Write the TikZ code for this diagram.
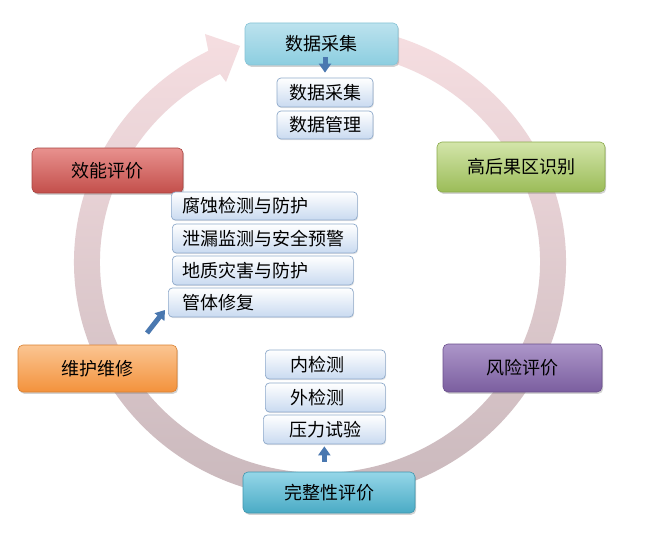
\documentclass[tikz,border=0pt]{standalone}
\usepackage{fontspec}
\newfontfamily\cjk{Noto Sans CJK SC}
\usetikzlibrary{arrows.meta,shadows,calc}
\definecolor{ringtop}{HTML}{F6DEE1}
\definecolor{ringbot}{HTML}{C8B7BB}
\definecolor{subfill}{HTML}{C9DAF0}
\definecolor{subline}{HTML}{8FAACB}
\definecolor{arrowblue}{HTML}{4A78B0}
\definecolor{aT}{HTML}{BCE2EE}\definecolor{aB}{HTML}{8CCEE0}\definecolor{aL}{HTML}{86C3D6}
\definecolor{bT}{HTML}{D3E5AA}\definecolor{bB}{HTML}{9BBC58}\definecolor{bL}{HTML}{8AAA4A}
\definecolor{fT}{HTML}{E8918E}\definecolor{fB}{HTML}{C34F4B}\definecolor{fL}{HTML}{A84440}
\definecolor{eT}{HTML}{FBC592}\definecolor{eB}{HTML}{F3923C}\definecolor{eL}{HTML}{D98030}
\definecolor{cT}{HTML}{AC96C9}\definecolor{cB}{HTML}{7B5E9F}\definecolor{cL}{HTML}{6A4F8C}
\definecolor{dT}{HTML}{95D6E8}\definecolor{dB}{HTML}{4AABC5}\definecolor{dL}{HTML}{3F96AE}
\begin{document}
\begin{tikzpicture}[x=1pt,y=1pt,
  base/.style={font=\cjk\fontsize{18}{20}\selectfont, text=black, inner sep=0pt},
  mainbox/.style n args={3}{base, rounded corners=5pt, draw=#3, line width=0.6pt,
     top color=#1, bottom color=#2,
     drop shadow={opacity=0.35, shadow xshift=1.2pt, shadow yshift=-1.8pt}},
  subbox/.style={base, rounded corners=4pt, draw=subline, line width=0.7pt,
     top color=white, bottom color=subfill,
     drop shadow={opacity=0.2, shadow xshift=0.8pt, shadow yshift=-1.2pt}},
  barrow/.style={draw=arrowblue, line width=5pt,
     -{Triangle[width=12pt,length=9pt]}}
]
\useasboundingbox (0,0) rectangle (646,-535);
\fill[white] (0,0) rectangle (646,-535);

% ring with arrow head
\begin{scope}[shift={(320,-262)}]
\shade[top color=ringtop, bottom color=ringbot]
  (80:246 and 237) arc[start angle=80, end angle=-243, x radius=246, y radius=237]
  -- (-115,228) -- (-80,216) -- (-94,180)
  -- (-243:220 and 211) arc[start angle=-243, end angle=80, x radius=220, y radius=211]
  -- cycle;
\end{scope}

% main boxes
\node[mainbox={aT}{aB}{aL}, minimum width=153, minimum height=42] (mA) at (321.5,-44) {数据采集};
\node[mainbox={bT}{bB}{bL}, minimum width=168, minimum height=50] (mB) at (521,-167) {高后果区识别};
\node[mainbox={fT}{fB}{fL}, minimum width=151, minimum height=45] (mF) at (107.5,-170.5) {效能评价};
\node[mainbox={eT}{eB}{eL}, minimum width=159, minimum height=47] (mE) at (97.5,-368.5) {维护维修};
\node[mainbox={cT}{cB}{cL}, minimum width=159, minimum height=48] (mC) at (522.5,-368) {风险评价};
\node[mainbox={dT}{dB}{dL}, minimum width=172, minimum height=41] (mD) at (329,-492.5) {完整性评价};

% sub boxes: data
\node[subbox, minimum width=96, minimum height=29] (a1) at (325,-92.5) {数据采集};
\node[subbox, minimum width=96, minimum height=28] (a2) at (325,-125) {数据管理};

% sub boxes: maintenance
\node[subbox, anchor=west, inner xsep=11pt, text width=164, align=left, minimum height=28] (e1) at (171,-206) {腐蚀检测与防护};
\node[subbox, anchor=west, inner xsep=10pt, text width=165, align=left, minimum height=29] (e2) at (172,-238.5) {泄漏监测与安全预警};
\node[subbox, anchor=west, inner xsep=10pt, text width=161, align=left, minimum height=29] (e3) at (172,-270.5) {地质灾害与防护};
\node[subbox, anchor=west, inner xsep=14pt, text width=157, align=left, minimum height=29] (e4) at (168,-302.5) {管体修复};

% sub boxes: inspection
\node[subbox, anchor=west, inner xsep=25pt, text width=70, align=left, minimum height=29] (d1) at (265,-364.5) {内检测};
\node[subbox, anchor=west, inner xsep=25pt, text width=70, align=left, minimum height=29] (d2) at (265,-397.5) {外检测};
\node[subbox, anchor=west, inner xsep=26pt, text width=70, align=left, minimum height=29] (d3) at (263,-429.5) {压力试验};

% small blue arrows
\coordinate (t1) at ($(a1.north |- mA.south)+(0,8)$);
\draw[barrow, shorten >=5pt] (t1) -- (a1.north);
\coordinate (b1) at ($(mD.north -| d3.south)+(0,10)$);
\draw[barrow, shorten >=2pt] (b1) -- (d3.south);
\coordinate (l1) at (147,-333);
\coordinate (l2) at (165,-310);
\draw[barrow] (l1) -- (l2);
\end{tikzpicture}
\end{document}
